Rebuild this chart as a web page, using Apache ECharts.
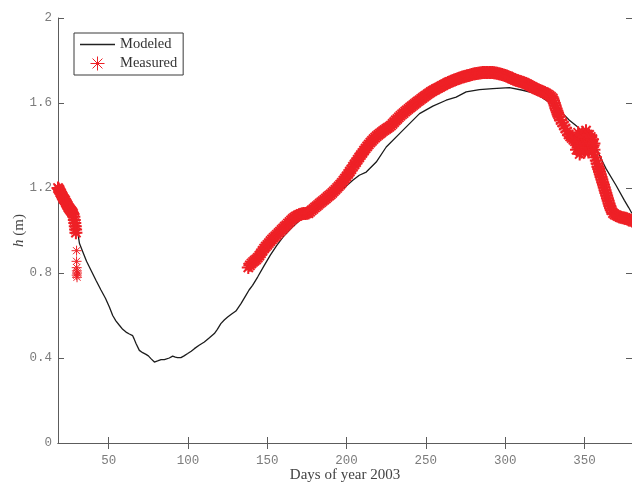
<!DOCTYPE html>
<html>
<head>
<meta charset="utf-8">
<script src="https://cdn.jsdelivr.net/npm/echarts@6/dist/echarts.min.js"></script>
<style>
  html, body { margin: 0; padding: 0; background: #fff; }
  #chart { width: 632px; height: 482px; }
</style>
</head>
<body>
<div id="chart"></div>
<script>
// Water level h (m) over the days of 2003: model run vs. field measurements.

// Axis ticks
const xTicks = [50, 100, 150, 200, 250, 300, 350];
const yTicks = [0, 0.4, 0.8, 1.2, 1.6, 2];

// Modeled water level
const modeledDay = [30.5, 31.5, 33.6, 36, 38.8, 42, 45.1, 48, 50.4, 52.5, 54.5, 56.7, 58.8, 60.9, 63, 65.1, 66, 67.2,
  69.3, 71.4, 73.5, 75, 76.6, 78.8, 80.8, 83, 85.1, 88.2, 90.3, 92, 93.4, 95.5, 97.5, 99.8, 102, 104, 107, 110.3,
  113.5, 116.6, 118.5, 120.7, 123, 125, 127.5, 130.2, 133.4, 136.5, 138.5, 140.7, 143.9, 148, 152, 156, 160, 165,
  170, 175, 180, 185, 190, 195, 200, 203.9, 208, 212.4, 218.7, 225, 233.4, 239.7, 246, 254.4, 262.8, 269.1, 275.4,
  283.8, 292.2, 302.7, 311.1, 319.5, 325.8, 333, 340.5, 345.8, 352, 357, 363.6, 369.9, 375.2, 377.9, 380];
const modeledH = [0.99, 0.94, 0.90, 0.855, 0.813, 0.765, 0.72, 0.68, 0.64, 0.60, 0.575, 0.554, 0.535, 0.522, 0.513,
  0.505, 0.49, 0.468, 0.436, 0.425, 0.417, 0.41, 0.397, 0.381, 0.386, 0.392, 0.392, 0.40, 0.409, 0.404, 0.402,
  0.402, 0.41, 0.421, 0.432, 0.444, 0.46, 0.475, 0.495, 0.515, 0.535, 0.562, 0.58, 0.593, 0.607, 0.621, 0.656,
  0.695, 0.72, 0.742, 0.781, 0.835, 0.885, 0.93, 0.97, 1.01, 1.045, 1.07, 1.095, 1.125, 1.155, 1.18, 1.21, 1.236,
  1.26, 1.275, 1.322, 1.393, 1.456, 1.503, 1.55, 1.585, 1.613, 1.628, 1.652, 1.663, 1.668, 1.672, 1.66, 1.644,
  1.613, 1.575, 1.519, 1.487, 1.44, 1.39, 1.291, 1.213, 1.142, 1.108, 1.08];

// Measured water level, early-year record (continuous part)
const measuredDayA = [18, 18.5, 19, 19.5, 20, 20.5, 21, 21.5, 22, 22.5, 23, 23.5, 24, 24.5, 25, 25.5, 26, 26.5, 27,
  27.5, 28, 28.3, 28.6, 28.9, 29.1, 29.3];
const measuredHA = [1.20, 1.195, 1.19, 1.18, 1.172, 1.165, 1.158, 1.15, 1.145, 1.14, 1.132, 1.125, 1.118, 1.11,
  1.105, 1.10, 1.095, 1.09, 1.085, 1.078, 1.065, 1.05, 1.035, 1.02, 1.005, 0.99];

// Measured water level, last scattered readings of the early record
const measuredDayC = [29.7, 29.7, 29.8, 29.9, 30, 29.8, 30];
const measuredHC = [0.905, 0.855, 0.825, 0.81, 0.80, 0.79, 0.78];

// Measured water level, main record from day 138 onward
const measuredDayB = [138, 139, 140, 141, 142, 143, 144, 145, 146, 147, 148, 149, 150, 151, 152, 153, 154, 155, 156,
  157, 158, 159, 160, 161, 162, 163, 164, 165, 166, 167, 168, 169, 170, 171, 172, 173, 174, 175, 176, 177, 178, 179,
  180, 181, 182, 183, 184, 185, 186, 187, 188, 189, 190, 191, 192, 193, 194, 195, 196, 197, 198, 199, 200, 201, 202,
  203, 204, 205, 206, 207, 208, 209, 210, 211, 212, 213, 214, 215, 216, 217, 218, 219, 220, 221, 222, 223, 224, 225,
  226, 227, 228, 229, 230, 231, 232, 233, 234, 235, 236, 237, 238, 239, 240, 241, 242, 243, 244, 245, 246, 247, 248,
  249, 250, 251, 252, 253, 254, 255, 256, 257, 258, 259, 260, 261, 262, 263, 264, 265, 266, 267, 268, 269, 270, 271,
  272, 273, 274, 275, 276, 277, 278, 279, 280, 281, 282, 283, 284, 285, 286, 287, 288, 289, 290, 291, 292, 293, 294,
  295, 296, 297, 298, 299, 300, 301, 302, 303, 304, 305, 306, 307, 308, 309, 310, 311, 312, 313, 314, 315, 316, 317,
  318, 319, 320, 321, 322, 323, 324, 325, 326, 327, 328, 329, 330, 330.5, 331, 331.5, 332, 332.5, 333, 333.5, 334,
  335, 336, 337, 338, 339, 340, 341, 342, 343, 344,
  345, 345, 345.5, 346, 346, 346.5, 347, 347, 347.5, 348, 348, 348.5, 349, 349, 349.5, 350, 350, 350.5, 351, 351,
  351.5, 352, 352, 352.5, 353, 353, 353.5, 354, 354, 354.5, 355, 355, 355.5, 356, 356,
  357, 357.5, 358, 358.5, 359, 359.5, 360, 360.5, 361, 361.5, 362, 362.5, 363, 363.5, 364, 364.5, 365, 365.5, 366,
  366.5, 367, 368, 369, 370, 371, 372, 373, 374, 375, 376, 377, 378, 379, 380];
const measuredHB = [0.826, 0.836, 0.845, 0.852, 0.858, 0.864, 0.872, 0.882, 0.893, 0.904, 0.915, 0.924, 0.932, 0.941,
  0.95, 0.958, 0.966, 0.973, 0.98, 0.988, 0.995, 1.003, 1.01, 1.018, 1.025, 1.033, 1.04, 1.048, 1.055, 1.061, 1.066,
  1.07, 1.074, 1.077, 1.079, 1.08, 1.08, 1.081, 1.082, 1.088, 1.095, 1.101, 1.108, 1.114, 1.12, 1.127, 1.133, 1.139,
  1.145, 1.151, 1.158, 1.164, 1.17, 1.177, 1.185, 1.192, 1.20, 1.208, 1.216, 1.225, 1.235, 1.245, 1.255, 1.266,
  1.277, 1.288, 1.30, 1.311, 1.322, 1.333, 1.344, 1.355, 1.365, 1.376, 1.386, 1.396, 1.405, 1.414, 1.422, 1.43,
  1.437, 1.444, 1.45, 1.456, 1.462, 1.468, 1.473, 1.478, 1.483, 1.488, 1.494, 1.502, 1.51, 1.518, 1.525, 1.533,
  1.54, 1.547, 1.553, 1.56, 1.566, 1.572, 1.578, 1.584, 1.59, 1.596, 1.602, 1.608, 1.613, 1.619, 1.624, 1.63, 1.635,
  1.641, 1.646, 1.651, 1.656, 1.66, 1.664, 1.668, 1.672, 1.676, 1.68, 1.684, 1.688, 1.692, 1.696, 1.699, 1.702,
  1.705, 1.708, 1.711, 1.714, 1.717, 1.719, 1.722, 1.724, 1.726, 1.728, 1.73, 1.732, 1.734, 1.736, 1.738, 1.739,
  1.74, 1.741, 1.742, 1.743, 1.744, 1.744, 1.744, 1.744, 1.744, 1.743, 1.742, 1.741, 1.74, 1.738, 1.736, 1.734,
  1.732, 1.729, 1.727, 1.724, 1.72, 1.717, 1.713, 1.71, 1.707, 1.705, 1.702, 1.70, 1.698, 1.695, 1.692, 1.688,
  1.684, 1.68, 1.676, 1.672, 1.668, 1.665, 1.661, 1.658, 1.655, 1.652, 1.649, 1.645, 1.64, 1.635, 1.629, 1.622,
  1.612, 1.60, 1.588, 1.575, 1.565, 1.555, 1.545, 1.535, 1.52, 1.508, 1.494, 1.48, 1.466, 1.452, 1.443, 1.435,
  1.427, 1.42,
  1.44, 1.38, 1.41, 1.46, 1.39, 1.42, 1.36, 1.43, 1.40, 1.45, 1.37, 1.41, 1.40, 1.46, 1.38, 1.37, 1.44, 1.41, 1.47,
  1.39, 1.43, 1.41, 1.45, 1.37, 1.45, 1.39, 1.42, 1.39, 1.44, 1.41, 1.43, 1.37, 1.40, 1.38, 1.41,
  1.345, 1.33, 1.315, 1.30, 1.29, 1.277, 1.265, 1.252, 1.24, 1.227, 1.215, 1.202, 1.19, 1.177, 1.165, 1.152, 1.14,
  1.127, 1.115, 1.105, 1.095, 1.082, 1.076, 1.072, 1.068, 1.064, 1.062, 1.06, 1.059, 1.058, 1.055, 1.05, 1.048,
  1.045];

const pairs = (xs, ys) => xs.map((x, i) => [x, ys[i]]);

// Asterisk marker: a "+" overlaid with an "x"
const asterisk = 'path://M0 5L10 5M5 0L5 10M1.46 1.46L8.54 8.54M8.54 1.46L1.46 8.54';
const red = '#ee2026';
const axisGray = '#5c5c5c';
const tickFont = { fontFamily: 'Liberation Mono', fontSize: 12.5, color: '#7c7c7c' };

const chart = echarts.init(document.getElementById('chart'), null, { renderer: 'canvas' });

const frameAxis = {
  axisLine: { show: true, lineStyle: { color: axisGray, width: 1 } },
  splitLine: { show: false }
};

const denseMarks = {
  type: 'scatter',
  symbol: asterisk, symbolSize: 13,
  itemStyle: { color: 'rgba(0,0,0,0)', borderColor: red, borderWidth: 2, opacity: 1 },
  z: 3
};

chart.setOption({
  animation: false,
  backgroundColor: '#fff',
  grid: { left: 58, top: 18, right: 0, bottom: 39, outerBoundsMode: 'none' },
  legend: {
    left: 74, top: 33,
    orient: 'vertical',
    backgroundColor: '#fff',
    borderColor: '#3a3a3a', borderWidth: 1,
    padding: [4, 6, 4, 6],
    itemGap: 4,
    itemWidth: 35, itemHeight: 14,
    textStyle: { fontFamily: 'Liberation Serif', fontSize: 14.5, color: '#333' },
    data: [
      { name: 'Modeled', icon: 'path://M0 0L35 0L35 1.4L0 1.4Z', itemStyle: { color: '#222' } },
      { name: 'Measured', icon: asterisk,
        itemStyle: { color: 'rgba(0,0,0,0)', borderColor: red, borderWidth: 1 } }
    ]
  },
  xAxis: [{
    type: 'value', min: 18, max: 380, position: 'bottom',
    ...frameAxis,
    axisTick: { show: true, inside: true, length: 6, lineStyle: { color: axisGray }, customValues: xTicks },
    axisLabel: { ...tickFont, margin: 11, customValues: xTicks },
    name: 'Days of year 2003', nameLocation: 'middle', nameGap: 25, nameMoveOverlap: false,
    nameTextStyle: { fontFamily: 'Liberation Serif', fontSize: 15, color: '#444', verticalAlign: 'top' }
  }, {
    type: 'value', min: 18, max: 380, position: 'top',
    ...frameAxis,
    axisTick: { show: true, inside: true, length: 6, lineStyle: { color: axisGray }, customValues: xTicks },
    axisLabel: { show: false }
  }],
  yAxis: [{
    type: 'value', min: 0, max: 2, position: 'left',
    ...frameAxis,
    axisTick: { show: true, inside: true, length: 6, lineStyle: { color: axisGray }, customValues: yTicks },
    axisLabel: { ...tickFont, margin: 6, customValues: yTicks },
    name: '{i|h} (m)', nameLocation: 'middle', nameGap: 31, nameMoveOverlap: false,
    nameTextStyle: {
      fontFamily: 'Liberation Serif', fontSize: 15, color: '#444',
      rich: { i: { fontFamily: 'Liberation Serif', fontStyle: 'italic', fontSize: 15, color: '#444' } }
    }
  }, {
    type: 'value', min: 0, max: 2, position: 'right',
    ...frameAxis,
    axisTick: { show: true, inside: true, length: 6, lineStyle: { color: axisGray }, customValues: yTicks },
    axisLabel: { show: false }
  }],
  series: [{
    name: 'Modeled',
    type: 'line',
    data: pairs(modeledDay, modeledH),
    showSymbol: false,
    lineStyle: { color: '#1c1c1c', width: 1.3 },
    itemStyle: { color: '#1c1c1c' },
    z: 2
  }, {
    name: 'Measured',
    ...denseMarks,
    data: pairs(measuredDayA, measuredHA)
  }, {
    name: 'Measured',
    type: 'scatter',
    data: pairs(measuredDayC, measuredHC),
    symbol: asterisk, symbolSize: 10,
    itemStyle: { color: 'rgba(0,0,0,0)', borderColor: red, borderWidth: 1, opacity: 1 },
    z: 3
  }, {
    name: 'Measured',
    ...denseMarks,
    data: pairs(measuredDayB, measuredHB)
  }]
});
</script>
</body>
</html>
